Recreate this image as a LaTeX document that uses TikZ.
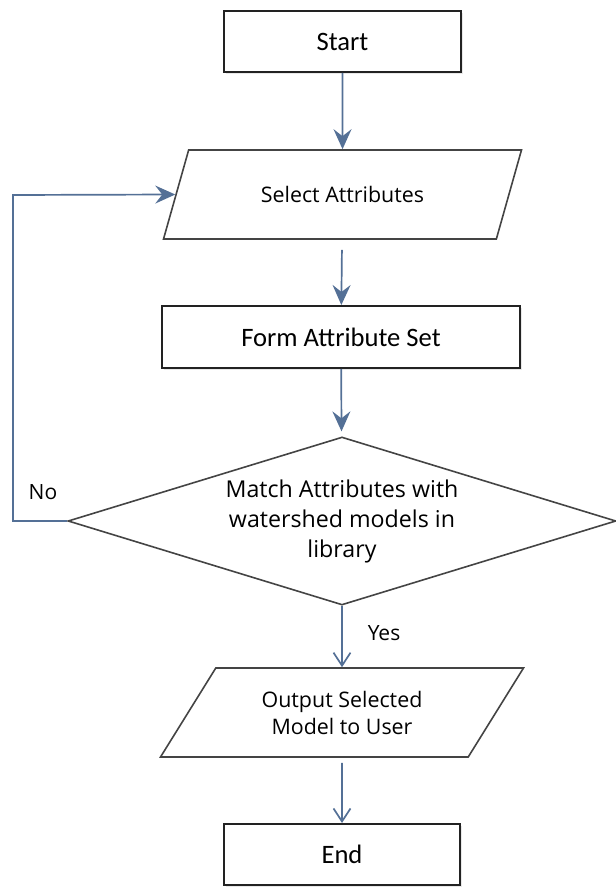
\documentclass[tikz,border=0pt]{standalone}
\usepackage{fontspec}
\setmainfont{Open Sans}
\newfontfamily\termfont{Carlito}
\usetikzlibrary{shapes.geometric,arrows.meta,shadows}

\definecolor{flowblue}{RGB}{84,112,150}
\definecolor{boxline}{RGB}{34,34,34}
\definecolor{shapeline}{RGB}{68,68,68}

\tikzset{
  flowline/.style={draw=flowblue, line width=0.85pt},
  fillhead/.style={-{Stealth[length=10pt,width=9pt,inset=3.5pt]}},
  openhead/.style={-{Straight Barb[length=6.5pt,width=8.5pt]}},
  termbox/.style={rectangle, draw=boxline, line width=1pt, fill=white,
    drop shadow={shadow xshift=0.8pt, shadow yshift=-0.8pt, opacity=0.18},
    font=\termfont\fontsize{13.3}{15}\selectfont},
  iobox/.style={trapezium, trapezium left angle=51, trapezium right angle=129,
    trapezium stretches=true, draw=shapeline, line width=0.8pt, inner sep=0pt,
    align=center, font=\fontsize{10.7}{13.5}\selectfont},
  decbox/.style={diamond, aspect=3.26, draw=shapeline, line width=0.8pt, inner sep=0pt,
    align=center, font=\fontsize{11.6}{15}\selectfont},
  flowlabel/.style={font=\fontsize{10.5}{12}\selectfont}
}

\begin{document}
\begin{tikzpicture}[x=0.5pt, y=-0.5pt]
    \useasboundingbox (0, 0) rectangle (615, 887);

    \node[termbox, minimum width=118.5pt, minimum height=30.5pt] (start) at (342.5, 41.5) {Start};
    \node[iobox, minimum width=179.5pt, minimum height=44.5pt] (sel) at (342.5, 194.5) {Select Attributes};
    \node[termbox, minimum width=179pt, minimum height=31pt] (form) at (341, 337) {Form Attribute Set};
    \node[decbox, minimum width=274pt, minimum height=84pt] (dec) at (342, 521)
      {Match Attributes with\\watershed models in\\library};
    \node[iobox, minimum width=181.5pt, minimum height=44.5pt] (out) at (342, 712.5)
      {Output Selected\\Model to User};
    \node[termbox, minimum width=118pt, minimum height=30.5pt] (end) at (342, 854.5) {End};

    \node[flowlabel] (no) at (43, 492) {No};
    \node[flowlabel] (yes) at (384, 633) {Yes};
    \coordinate (loop) at (13, 195);

    \draw[flowline, fillhead] (start) to (sel);
    \draw[flowline, fillhead, shorten <=5pt] (sel) to (form);
    \draw[flowline, fillhead, shorten >=2.5pt] (form) to (dec);
    \draw[flowline, openhead] (dec) to (out);
    \draw[flowline, openhead, shorten <=2.5pt] (out) to (end);

    \draw[flowline, fillhead] (dec.west) -| (loop) -- (sel.west);
  \end{tikzpicture}
\end{document}
